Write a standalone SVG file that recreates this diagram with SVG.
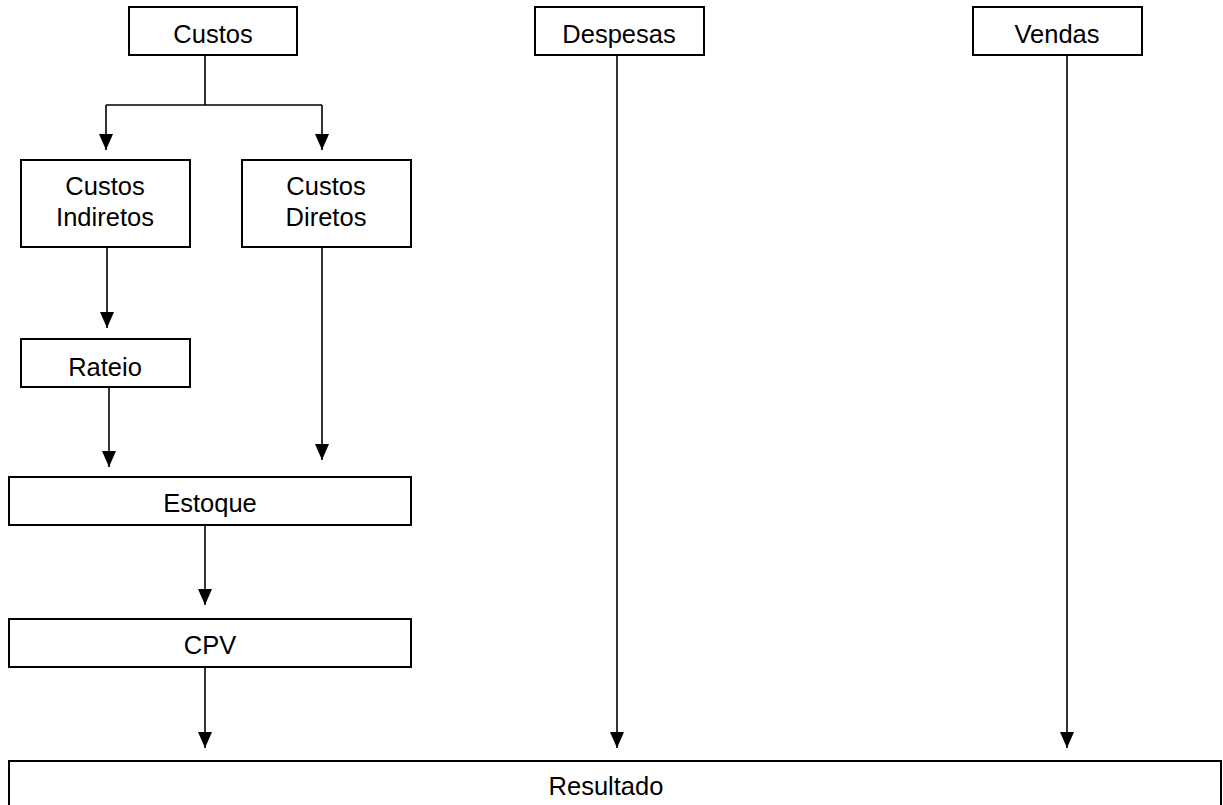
<svg xmlns="http://www.w3.org/2000/svg" width="1223" height="805" viewBox="0 0 1223 805">
<style>
.box{fill:#fff;stroke:#000;stroke-width:2}
.lbl{font-family:"Liberation Sans",Arial,sans-serif;font-size:25.5px;fill:#000;text-anchor:middle}
.con{fill:none;stroke:#000;stroke-width:1.6}
</style>
<defs>
<marker id="ah" markerUnits="userSpaceOnUse" markerWidth="16" markerHeight="14" refX="16" refY="7" orient="auto">
<path d="M0,0 L16,7 L0,14 z" fill="#000"/>
</marker>
</defs>
<rect width="1223" height="805" fill="#fff"/>
<g id="connectors">
<path class="con" d="M205,55 V105 M106,105 H322"/>
<path class="con" d="M106,105 V150" marker-end="url(#ah)"/>
<path class="con" d="M322,105 V150" marker-end="url(#ah)"/>
<path class="con" d="M107,247 V328" marker-end="url(#ah)"/>
<path class="con" d="M109,386 V467" marker-end="url(#ah)"/>
<path class="con" d="M322,247 V460" marker-end="url(#ah)"/>
<path class="con" d="M205,525 V605" marker-end="url(#ah)"/>
<path class="con" d="M205,667 V748" marker-end="url(#ah)"/>
<path class="con" d="M617,55 V748" marker-end="url(#ah)"/>
<path class="con" d="M1067,55 V748" marker-end="url(#ah)"/>
</g>
<g id="custos"><rect class="box" x="129" y="7" width="168" height="48"/><text class="lbl" x="213" y="43">Custos</text></g>
<g id="despesas"><rect class="box" x="535" y="7" width="169" height="48"/><text class="lbl" x="619" y="43">Despesas</text></g>
<g id="vendas"><rect class="box" x="973" y="7" width="169" height="48"/><text class="lbl" x="1057" y="43">Vendas</text></g>
<g id="custos-indiretos"><rect class="box" x="21" y="160" width="169" height="87"/><text class="lbl" x="105" y="195">Custos</text><text class="lbl" x="105" y="226">Indiretos</text></g>
<g id="custos-diretos"><rect class="box" x="242" y="160" width="169" height="87"/><text class="lbl" x="326" y="195">Custos</text><text class="lbl" x="326" y="226">Diretos</text></g>
<g id="rateio"><rect class="box" x="21" y="339" width="169" height="48"/><text class="lbl" x="105" y="376">Rateio</text></g>
<g id="estoque"><rect class="box" x="9" y="477" width="402" height="48"/><text class="lbl" x="210" y="512">Estoque</text></g>
<g id="cpv"><rect class="box" x="9" y="619" width="402" height="48"/><text class="lbl" x="210" y="654">CPV</text></g>
<g id="resultado"><rect class="box" x="9" y="761" width="1212" height="60"/><text class="lbl" x="606" y="795">Resultado</text></g>
</svg>
